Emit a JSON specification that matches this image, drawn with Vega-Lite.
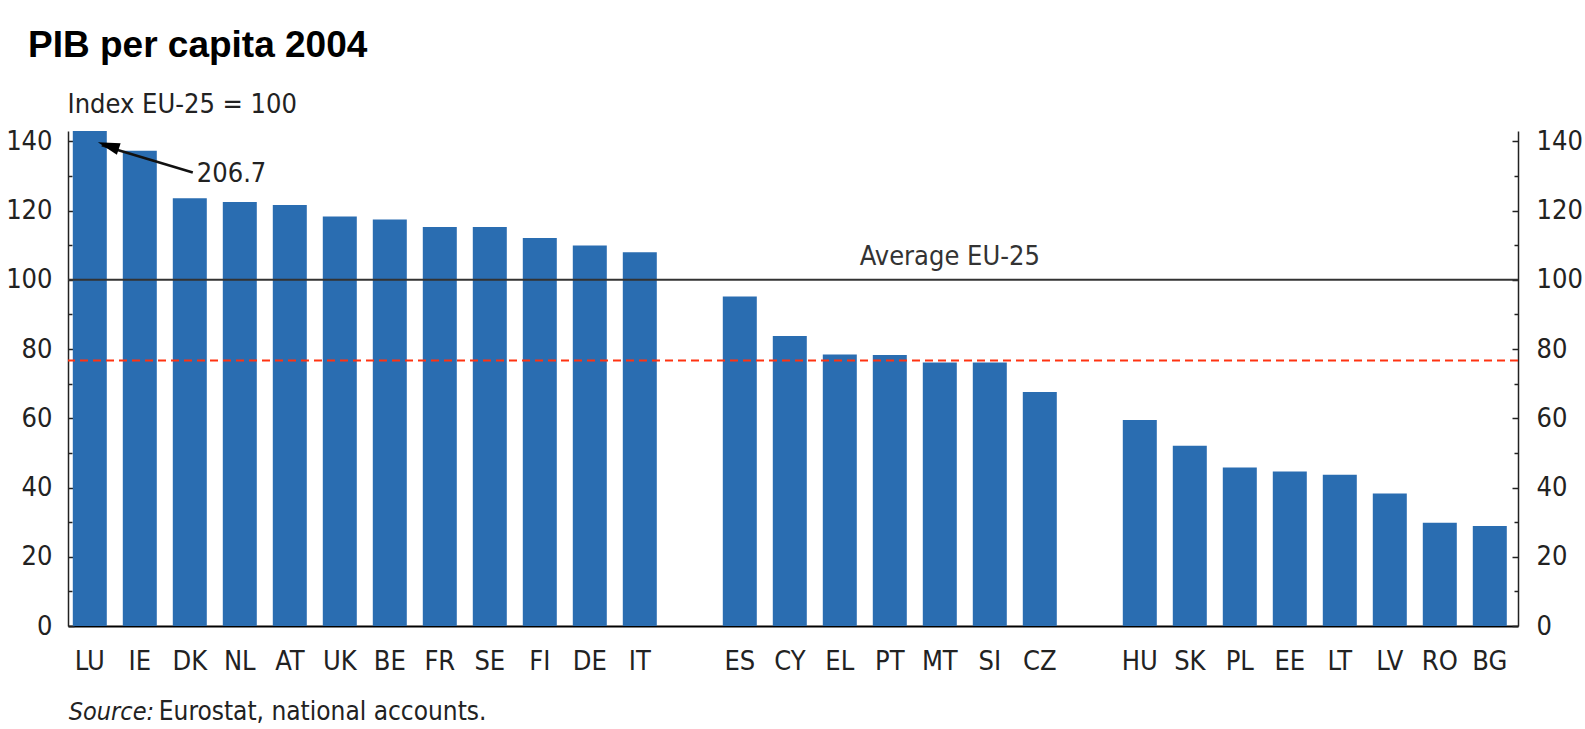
{
  "$schema": "https://vega.github.io/schema/vega-lite/v6.json",
  "autosize": {"type": "none"},
  "width": 1450,
  "height": 495,
  "padding": {"left": 68, "top": 131, "right": 67, "bottom": 103},
  "background": "white",
  "title": {
    "text": "PIB per capita 2004",
    "anchor": "start",
    "frame": "group",
    "font": "Liberation Sans",
    "fontSize": 37,
    "fontWeight": "bold",
    "color": "#000000",
    "baseline": "alphabetic",
    "dx": -40,
    "dy": 34,
    "offset": 30
  },
  "config": {
    "view": {"stroke": null},
    "font": "'Liberation Sans Narrow','DejaVu Sans Condensed','Liberation Sans',sans-serif"
  },
  "data": {
    "values": [
      {"country": "LU", "value": 206.7},
      {"country": "IE", "value": 137.3},
      {"country": "DK", "value": 123.6},
      {"country": "NL", "value": 122.5},
      {"country": "AT", "value": 121.6},
      {"country": "UK", "value": 118.3},
      {"country": "BE", "value": 117.4},
      {"country": "FR", "value": 115.3},
      {"country": "SE", "value": 115.3},
      {"country": "FI", "value": 112.1},
      {"country": "DE", "value": 109.9},
      {"country": "IT", "value": 108.0},
      {"country": "ES", "value": 95.2},
      {"country": "CY", "value": 83.8},
      {"country": "EL", "value": 78.4},
      {"country": "PT", "value": 78.3},
      {"country": "MT", "value": 76.1},
      {"country": "SI", "value": 76.1},
      {"country": "CZ", "value": 67.6},
      {"country": "HU", "value": 59.5},
      {"country": "SK", "value": 52.1},
      {"country": "PL", "value": 45.8},
      {"country": "EE", "value": 44.6},
      {"country": "LT", "value": 43.7},
      {"country": "LV", "value": 38.3},
      {"country": "RO", "value": 29.8},
      {"country": "BG", "value": 28.9}
    ]
  },
  "encoding": {
    "x": {
      "field": "country",
      "type": "nominal",
      "scale": {
        "domain": ["LU","IE","DK","NL","AT","UK","BE","FR","SE","FI","DE","IT"," ","ES","CY","EL","PT","MT","SI","CZ","  ","HU","SK","PL","EE","LT","LV","RO","BG"],
        "paddingInner": 0.32,
        "paddingOuter": 0.16,
        "align": 0.3
      },
      "axis": {
        "title": null,
        "labelAngle": 0,
        "ticks": false,
        "labelPadding": 22,
        "labelFontSize": 27,
        "labelColor": "#222222",
        "domainColor": "#000000",
        "domainWidth": 2
      }
    }
  },
  "layer": [
    {
      "mark": {"type": "bar", "color": "#2a6db1"},
      "encoding": {
        "y": {
          "field": "value",
          "type": "quantitative",
          "scale": {"domain": [0, 143], "clamp": true, "nice": false},
          "axis": {
            "orient": "left",
            "title": "Index EU-25 = 100",
            "titleAngle": 0,
            "titleAlign": "left",
            "titleBaseline": "alphabetic",
            "titleX": -1,
            "titleY": -19,
            "titleFontSize": 27,
            "titleFontWeight": "normal",
            "titleColor": "#222222",
            "values": [0,10,20,30,40,50,60,70,80,90,100,110,120,130,140],
            "labelExpr": "datum.value % 20 === 0 ? datum.label : ''",
            "grid": false,
            "tickSize": {"condition": {"test": "datum.value % 20 === 0", "value": -6}, "value": -4},
            "tickColor": "#222222",
            "tickWidth": 1.5,
            "labelPadding": 22,
            "labelFontSize": 27,
            "labelColor": "#222222",
            "domainColor": "#222222",
            "domainWidth": 1.5
          }
        }
      }
    },
    {
      "data": {"values": [{}]},
      "mark": {"type": "rule", "color": "#333333", "strokeWidth": 2},
      "encoding": {
        "x": null,
        "y": {
          "datum": 100,
          "type": "quantitative",
          "scale": {"domain": [0, 143], "nice": false},
          "axis": {
            "orient": "right",
            "title": null,
            "values": [0,10,20,30,40,50,60,70,80,90,100,110,120,130,140],
            "labelExpr": "datum.value % 20 === 0 ? datum.label : ''",
            "grid": false,
            "tickSize": {"condition": {"test": "datum.value % 20 === 0", "value": -6}, "value": -4},
            "tickColor": "#222222",
            "tickWidth": 1.5,
            "labelPadding": 24,
            "labelFontSize": 27,
            "labelColor": "#222222",
            "domainColor": "#222222",
            "domainWidth": 1.5
          }
        }
      }
    },
    {
      "data": {"values": [{}]},
      "mark": {"type": "rule", "color": "#ff3311", "strokeWidth": 2, "strokeDash": [8, 5]},
      "encoding": {
        "x": null,
        "y": {"datum": 76.7, "type": "quantitative", "scale": {"domain": [0, 143], "nice": false}, "axis": null}
      }
    },
    {
      "data": {"values": [{"note": "Average EU-25"}]},
      "mark": {"type": "text", "fontSize": 27, "color": "#333333", "align": "center", "baseline": "alphabetic", "dx": 10},
      "encoding": {
        "x": {"datum": "MT"},
        "y": {"datum": 104.2, "type": "quantitative", "scale": {"domain": [0, 143], "nice": false}, "axis": null},
        "text": {"field": "note"}
      }
    },
    {
      "data": {"values": [{}]},
      "mark": {"type": "rule", "color": "#111111", "strokeWidth": 2.5, "xOffset": 12, "x2Offset": 3},
      "encoding": {
        "x": {"datum": "LU"},
        "x2": {"datum": "DK"},
        "y": {"datum": 138.9, "type": "quantitative", "scale": {"domain": [0, 143], "nice": false}, "axis": null},
        "y2": {"datum": 131}
      }
    },
    {
      "data": {"values": [{}]},
      "mark": {"type": "point", "shape": "M0,-1L0.55,1L-0.55,1Z", "filled": true, "color": "#000000", "opacity": 1, "size": 484, "angle": 288, "xOffset": 18.5},
      "encoding": {
        "x": {"datum": "LU"},
        "y": {"datum": 138.8, "type": "quantitative", "scale": {"domain": [0, 143], "nice": false}, "axis": null}
      }
    },
    {
      "transform": [{"filter": "datum.country === 'LU'"}],
      "mark": {"type": "text", "fontSize": 27, "color": "#222222", "align": "left", "baseline": "alphabetic", "dx": 7},
      "encoding": {
        "x": {"datum": "DK"},
        "y": {"datum": 128.3, "type": "quantitative", "scale": {"domain": [0, 143], "nice": false}, "axis": null},
        "text": {"field": "value", "format": ".1f"}
      }
    },
    {
      "data": {"values": [{"note": "Source:"}]},
      "mark": {"type": "text", "fontSize": 25, "fontStyle": "italic", "color": "#222222", "align": "left", "baseline": "alphabetic", "dx": -21},
      "encoding": {
        "x": {"datum": "LU"},
        "y": {"datum": -27.1, "type": "quantitative", "scale": {"domain": [0, 143], "nice": false}, "axis": null},
        "text": {"field": "note"}
      }
    },
    {
      "data": {"values": [{"note": "Eurostat, national accounts."}]},
      "mark": {"type": "text", "fontSize": 26, "color": "#222222", "align": "left", "baseline": "alphabetic", "dx": 69},
      "encoding": {
        "x": {"datum": "LU"},
        "y": {"datum": -27.1, "type": "quantitative", "scale": {"domain": [0, 143], "nice": false}, "axis": null},
        "text": {"field": "note"}
      }
    }
  ],
  "resolve": {"scale": {"y": "independent"}, "axis": {"y": "independent"}}
}
